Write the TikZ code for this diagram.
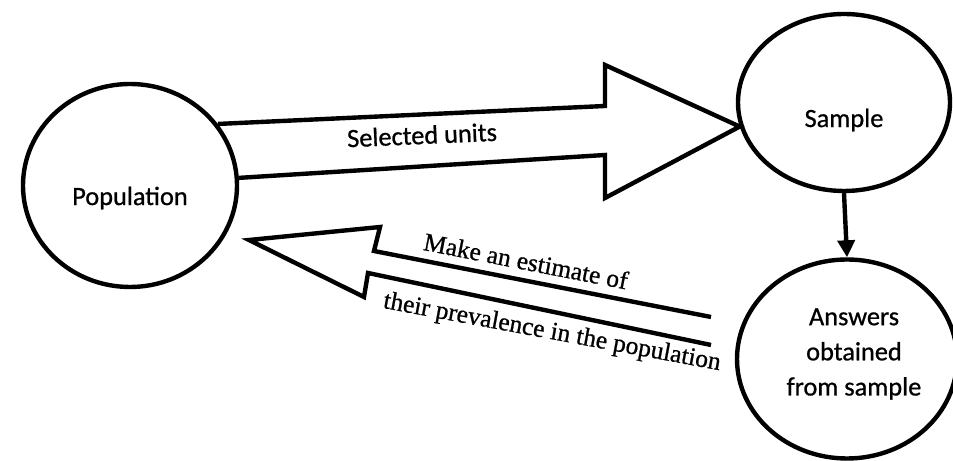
\documentclass[tikz,border=0pt]{standalone}
\usepackage{fontspec}
\setmainfont[FakeBold=0.8]{Liberation Serif}
\newfontfamily\carlito[FakeBold=0.8]{Carlito}
\usetikzlibrary{shapes.geometric,arrows.meta}

\begin{document}
\begin{tikzpicture}[line width=2.5pt,
    bubble/.style={ellipse, draw, inner sep=0pt},
    sanslbl/.style={font=\carlito\fontsize{15}{20}\selectfont, align=center},
    seriflbl/.style={font=\fontsize{14.5}{17}\selectfont, inner sep=0pt}]
    \useasboundingbox (0,0) rectangle (19.06,9.22);

    % Circulos
    \node[bubble, minimum width=4.28cm, minimum height=4.06cm] (pop) at (2.60,5.51) {};
    \node[bubble, minimum width=4.24cm, minimum height=3.54cm] (sample) at (16.88,7.17) {};
    \node[bubble, minimum width=4.40cm, minimum height=3.98cm] (answers) at (16.94,2.04) {};

    \node[sanslbl] (poptxt) at ([yshift=-0.25cm]pop.center) {Population};
    \node[sanslbl] (sampletxt) at ([yshift=-0.35cm]sample.center) {Sample};
    \node[sanslbl] (answerstxt) at ([xshift=0.14cm,yshift=0.1cm]answers.center) {Answers\\obtained\\from sample};

    % Flecha grande hacia la muestra
    \draw (pop.35) -- (12.10,7.10) -- (12.10,7.92) -- (sample.193)
        -- (12.10,5.26) -- (12.10,6.12) -- (pop.4);
    \node[sanslbl, rotate=2.5] (seltxt) at (8.44,6.52) {Selected units};

    % Flecha grande de vuelta
    \draw (14.22,2.88) -- (7.48,4.20) -- (7.60,4.68) -- (4.98,4.42)
        -- (7.28,3.28) -- (7.36,3.76) -- (14.22,2.32);
    \node[seriflbl, rotate=-11] (esttxt) at (10.52,4.00) {Make an estimate of};
    \node[seriflbl, rotate=-10.5] (prevtxt) at (11.04,2.56) {their prevalence in the population};

    % Muestra -> respuestas
    \draw[-{Triangle[length=0.34cm,width=0.34cm]}] (sample.south) -- (answers.north);
\end{tikzpicture}
\end{document}
